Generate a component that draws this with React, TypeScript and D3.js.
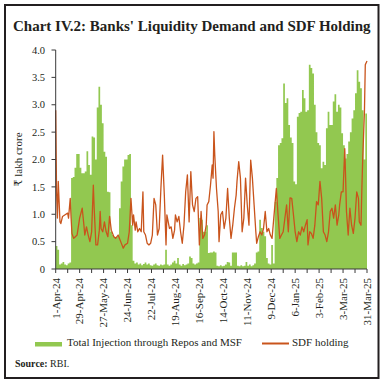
import React from "react";
import * as d3 from "d3";

// total injection through repos and MSF, one value every 2 days from 1-Apr-24 (₹ lakh crore)
const injectionValues = [
  0.42, 0.35, 0.08, 0.1, 0.13, 0.08, 0.07, 0.1, 0.12, 1.66,
  1.68, 1.85, 2.1, 2.1, 1.85, 1.75, 1.75, 1.78, 2.15, 1.9,
  1.72, 2.42, 2.4, 2.0, 2.95, 3.33, 3.0, 2.66, 2.14, 2.05,
  1.41, 1.4, 0.68, 0.62, 0.59, 0.58, 0.6, 1.11, 1.6, 1.87,
  2.0, 2.0, 2.08, 2.1, 0.8, 0.15, 0.1, 0.12, 0.08, 0.1,
  0.07, 0.09, 0.12, 0.08, 0.1, 0.07, 0.06, 0.08, 0.1, 0.07,
  0.06, 0.08, 0.07, 0.08, 0.35, 0.08, 0.06, 0.08, 0.12, 0.15,
  0.1, 0.2, 0.08, 0.06, 0.09, 0.07, 0.08, 0.1, 0.23, 0.2,
  0.1, 0.08, 0.1, 0.12, 0.93, 0.9, 0.68, 0.68, 0.8, 0.29,
  0.3, 0.3, 0.32, 0.3, 0.06, 0.05, 0.07, 0.05, 0.06, 0.08,
  0.13, 0.12, 0.06, 0.3, 0.3, 0.3, 0.06, 0.05, 0.07, 0.05,
  0.06, 0.13, 0.06, 0.08, 0.05, 0.07, 0.1, 0.3, 0.32, 0.9,
  0.75, 0.68, 0.6, 0.2, 0.1, 0.08, 0.44, 0.1, 1.23, 1.66,
  2.26, 2.3, 2.39, 3.39, 3.03, 3.12, 2.63, 2.4, 2.3, 1.6,
  1.55, 2.78, 2.85, 2.87, 3.27, 3.12, 2.87, 2.9, 3.73, 3.67,
  3.57, 3.0, 2.5, 2.3, 2.26, 1.84, 1.96, 1.9, 2.57, 2.87,
  2.63, 2.63, 3.06, 3.19, 2.87, 3.0, 2.95, 2.48, 2.26, 2.02,
  2.1, 2.33, 2.5, 2.75, 2.9, 3.21, 3.63, 3.42, 3.3, 2.9,
  2.0, 2.84, 2.84,
];

// SDF holding, days since 1-Apr-24 and values
const sdfDay = [
  0, 1, 2, 3, 5, 6, 8, 11, 14, 15, 17, 18, 19, 21, 23, 25, 28, 31, 33, 34,
  36, 38, 40, 42, 44, 45, 47, 49, 51, 52, 53, 55, 57, 59, 61, 63, 65, 68, 70, 73,
  76, 79, 81, 84, 86, 88, 90, 91, 93, 94, 96, 98, 100, 102, 103, 105, 107, 109, 111, 113,
  115, 117, 119, 121, 123, 125, 127, 129, 130, 133, 135, 137, 139, 140, 142, 144, 146, 148, 150, 152,
  154, 156, 158, 160, 162, 164, 166, 168, 170, 172, 174, 176, 177, 179, 181, 183, 184, 185, 186, 188,
  190, 191, 193, 195, 197, 199, 201, 203, 205, 207, 209, 211, 212, 214, 216, 218, 220, 222, 224, 226,
  228, 230, 232, 234, 235, 237, 239, 241, 243, 245, 247, 249, 251, 253, 255, 257, 258, 260, 262, 264,
  266, 268, 270, 272, 274, 276, 278, 280, 282, 284, 286, 288, 290, 292, 294, 295, 297, 299, 301, 303,
  305, 307, 309, 311, 313, 315, 317, 319, 321, 323, 325, 327, 329, 331, 332, 334, 336, 338, 339, 340,
  342, 344, 346, 348, 350, 352, 354, 355, 357, 358, 359, 361, 362, 364,
];
const sdfValue = [
  2.9, 1.41, 0.93, 1.6, 0.86, 0.83, 0.96, 0.99, 1.02, 0.93, 1.29, 0.93, 0.65, 0.56, 0.59, 0.62, 0.93, 1.11, 0.8, 0.62,
  0.77, 0.62, 0.5, 0.68, 1.53, 1.11, 0.44, 0.44, 0.71, 1.05, 0.74, 0.68, 0.86, 0.68, 0.59, 0.96, 0.71, 0.59, 0.56, 0.62,
  0.5, 0.38, 0.44, 0.47, 0.68, 1.29, 0.8, 0.99, 0.71, 0.86, 0.68, 0.74, 0.68, 1.41, 0.68, 0.62, 0.47, 0.44, 0.47, 0.62,
  1.29, 1.17, 0.62, 0.74, 1.47, 2.08, 1.35, 0.44, 0.99, 0.74, 0.77, 0.56, 0.71, 0.99, 0.86, 0.96, 0.68, 0.47, 0.8, 1.41,
  1.72, 0.86, 1.78, 1.17, 1.05, 1.29, 1.32, 0.44, 1.05, 0.56, 0.62, 0.8, 1.17, 1.23, 1.53, 1.9, 1.66, 2.51, 2.08, 1.47,
  1.05, 0.5, 0.99, 1.05, 0.74, 0.93, 1.47, 0.93, 0.56, 0.8, 1.11, 1.35, 1.6, 1.96, 1.66, 0.68, 0.93, 1.66, 1.17, 0.8,
  1.99, 1.66, 1.17, 0.68, 0.47, 0.59, 0.68, 0.62, 0.74, 1.05, 0.68, 0.74, 0.62, 0.56, 0.93, 1.29, 1.47, 0.99, 0.56, 0.62,
  0.68, 0.93, 1.17, 0.68, 1.3, 1.29, 0.99, 0.68, 0.5, 0.68, 0.62, 0.77, 0.68, 0.8, 0.9, 0.44, 0.68, 0.65, 0.56, 0.8,
  1.23, 1.17, 1.6, 1.29, 0.68, 0.62, 0.5, 0.68, 1.05, 1.11, 0.93, 1.17, 0.8, 0.99, 1.17, 1.41, 1.41, 2.2, 1.66, 1.05,
  0.62, 1.11, 0.8, 0.65, 0.93, 1.41, 1.29, 0.86, 0.8, 1.47, 2.02, 2.87, 3.73, 3.8,
];

const yTicks = [0, 0.5, 1.0, 1.5, 2.0, 2.5, 3.0, 3.5, 4.0];

const start = new Date(Date.UTC(2024, 3, 1));
const end = new Date(Date.UTC(2025, 2, 31));
const fmt = d3.utcFormat("%-d-%b-%y");

const GREEN = "#92c850";
const ORANGE = "#c9541c";
const AXIS = "#3a3a3a";
const SERIF = "'Liberation Serif', 'DejaVu Serif', serif";

export default function App() {
  const x = d3.scaleUtc().domain([start, end]).range([55.7, 367]).clamp(true);
  const y = d3.scaleLinear().domain([0, 4]).range([269, 50]);

  // step area so the daily columns touch without hairline gaps
  const injPoints = injectionValues.map((v, i) => ({ day: i * 2, v }));
  injPoints.push({ day: 366, v: injectionValues[injectionValues.length - 1] });
  const area = d3
    .area<{ day: number; v: number }>()
    .x((p) => x(d3.utcDay.offset(start, p.day)))
    .y0(y(0))
    .y1((p) => y(p.v))
    .curve(d3.curveStepAfter);

  const line = d3
    .line<number>()
    .x((_, i) => x(d3.utcDay.offset(start, sdfDay[i])))
    .y((v) => y(v));

  const tickDates = d3.range(0, 365, 14).map((d) => d3.utcDay.offset(start, d));
  const labelDates = d3.range(0, 365, 28).map((d) => d3.utcDay.offset(start, d));

  return (
    <svg
      width={384}
      height={385}
      style={{ position: "absolute", left: 0, top: 0, background: "#fff" }}
      fontFamily={SERIF}
    >
      <rect x={5} y={5} width={373.5} height={373} fill="none" stroke="#231f20" strokeWidth={2} />
      <text x={13} y={31} fontSize={15} fontWeight="bold" fill="#231f20">
        Chart IV.2: Banks' Liquidity Demand and SDF Holding
      </text>

      <path d={area(injPoints) ?? ""} fill={GREEN} />

      <path d={line(sdfValue) ?? ""} fill="none" stroke={ORANGE} strokeWidth={1.3} strokeLinejoin="round" />

      {/* y axis */}
      <line x1={55.7} x2={55.7} y1={y(0)} y2={y(4)} stroke={AXIS} strokeWidth={1} />
      {yTicks.map((t) => (
        <g key={t}>
          <line x1={51.5} x2={55.7} y1={y(t)} y2={y(t)} stroke={AXIS} strokeWidth={1} />
          <text x={45} y={y(t)} dy="0.35em" textAnchor="end" fontSize={10.5} fill="#231f20">
            {t === 0 ? "0" : t.toFixed(1)}
          </text>
        </g>
      ))}
      <text
        transform={`translate(22,${(y(0) + y(4)) / 2}) rotate(-90)`}
        textAnchor="middle"
        fontSize={11}
        fill="#231f20"
      >
        ₹ lakh crore
      </text>

      {/* x axis */}
      <line x1={55.7} x2={367} y1={y(0)} y2={y(0)} stroke={AXIS} strokeWidth={1} />
      {tickDates.map((d, i) => (
        <line key={i} x1={x(d)} x2={x(d)} y1={y(0)} y2={y(0) + 4} stroke={AXIS} strokeWidth={1} />
      ))}
      {labelDates.map((d, i) => (
        <text
          key={i}
          transform={`translate(${x(d) + 3.8},278) rotate(-90)`}
          textAnchor="end"
          fontSize={11}
          fill="#231f20"
        >
          {fmt(d)}
        </text>
      ))}

      {/* legend */}
      <rect x={35} y={342} width={27} height={4.5} fill={GREEN} />
      <text x={67} y={346} fontSize={11} fill="#231f20">
        Total Injection through Repos and MSF
      </text>
      <line x1={262} x2={289} y1={343.5} y2={343.5} stroke={ORANGE} strokeWidth={2} />
      <text x={292} y={346} fontSize={11} fill="#231f20">
        SDF holding
      </text>

      <text x={15} y={367} fontSize={10} fill="#231f20">
        <tspan fontWeight="bold">Source:</tspan> RBI.
      </text>
    </svg>
  );
}
